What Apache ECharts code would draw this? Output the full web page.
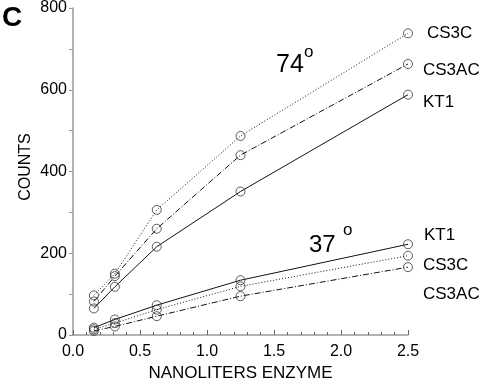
<!DOCTYPE html>
<html><head><meta charset="utf-8">
<script src="https://cdn.jsdelivr.net/npm/echarts@6/dist/echarts.min.js"></script>
<style>html,body{margin:0;padding:0;background:#fff}#c{width:482px;height:387px}</style>
</head><body><div id="c"></div>
<script>
var enzyme = [0.156, 0.3125, 0.625, 1.25, 2.5];
var cs3c74 = [97, 150, 306, 487, 738];
var cs3ac74 = [82, 144, 260, 440, 663];
var kt174 = [65, 118, 216, 351, 588];
var kt137 = [18, 38, 73, 134, 222];
var cs3c37 = [14, 29, 62, 119, 194];
var cs3ac37 = [10, 21, 46, 95, 166];

var F = 'Liberation Sans, Arial, Helvetica, sans-serif';
function pairs(v){ return enzyme.map(function(x,i){ return [x, v[i]]; }); }
var dotted = [1, 2];
var dashdot = [6, 2, 1, 2];
function mk(name, v, type){
  return { name: name, type: 'line', data: pairs(v), symbol: 'circle', symbolSize: 9,
    itemStyle: { color: 'rgba(0,0,0,0)', borderColor: '#333', borderWidth: 0.8 },
    lineStyle: { color: '#111', width: 1, type: type }, emphasis: { disabled: true }, animation: false };
}
function txt(x, y, s, size){
  return { type: 'text', x: x, y: y, style: { text: s, font: size + 'px ' + F, fill: '#000', verticalAlign: 'middle' } };
}
var chart = echarts.init(document.getElementById('c'));
chart.setOption({
  animation: false,
  grid: { left: 73, right: 74, top: 8, bottom: 45 },
  xAxis: { type: 'value', min: 0, max: 2.5, interval: 0.5,
    axisLine: { lineStyle: { color: '#999', width: 1.5 } },
    axisTick: { inside: true, length: 5, lineStyle: { color: '#666' } },
    minorTick: { show: true, splitNumber: 5, length: 3, lineStyle: { color: '#666' } },
    splitLine: { show: false },
    axisLabel: { color: '#000', fontSize: 16, fontFamily: F, margin: 9, formatter: function(v){ return v.toFixed(1); } },
    name: 'NANOLITERS ENZYME', nameLocation: 'middle', nameGap: 30,
    nameTextStyle: { color: '#000', fontSize: 17, fontFamily: F } },
  yAxis: { type: 'value', min: 0, max: 800, interval: 200,
    axisLine: { show: true, lineStyle: { color: '#999', width: 1.5 } },
    axisTick: { show: true, inside: false, length: 4, lineStyle: { color: '#999' } },
    minorTick: { show: true, splitNumber: 2, length: 4, lineStyle: { color: '#999' } },
    splitLine: { show: false },
    axisLabel: { color: '#000', fontSize: 16, fontFamily: F, margin: 6 } },
  series: [
    mk('CS3C 74', cs3c74, dotted), mk('CS3AC 74', cs3ac74, dashdot), mk('KT1 74', kt174, 'solid'),
    mk('KT1 37', kt137, 'solid'), mk('CS3C 37', cs3c37, dotted), mk('CS3AC 37', cs3ac37, dashdot)
  ],
  graphic: [
    { type: 'text', left: 2, top: 4, style: { text: 'C', font: 'bold 28px ' + F, fill: '#000' } },
    { type: 'text', x: 26, y: 167, rotation: Math.PI/2, style: { text: 'COUNTS', font: '16px ' + F, fill: '#000', align: 'center', verticalAlign: 'middle' } },
    txt(276, 65, '74', 25),
    txt(304, 52, 'o', 17),
    txt(309, 245, '37', 24),
    txt(343, 230, 'o', 17),
    txt(427, 33, 'CS3C', 17),
    txt(423, 70, 'CS3AC', 17),
    txt(423, 102, 'KT1', 17),
    txt(424, 235, 'KT1', 17),
    txt(423, 265, 'CS3C', 17),
    txt(423, 294, 'CS3AC', 17)
  ]
});
</script></body></html>
